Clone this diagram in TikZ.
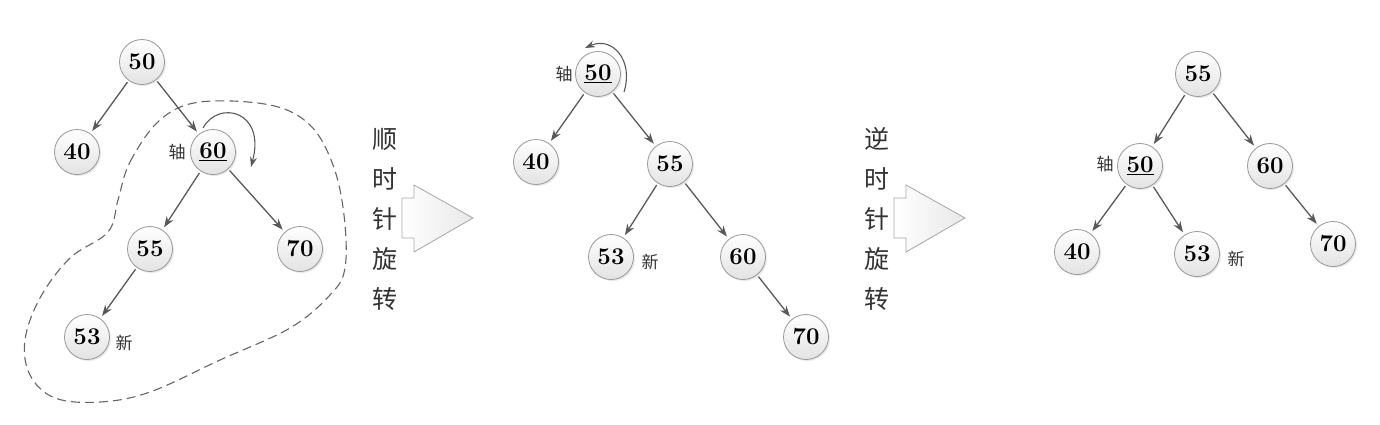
\documentclass[tikz,border=0pt]{standalone}
\usepackage{fontspec}
\newfontfamily\cjk{Noto Sans CJK SC}
\usetikzlibrary{arrows.meta,shadows}
\begin{document}
\begin{tikzpicture}[x=1pt,y=-1pt,
  bnode/.style={circle,minimum size=45pt,inner sep=0pt,draw=gray!80,line width=0.8pt,
    top color=white,bottom color=gray!22,font=\fontsize{24}{27}\selectfont\bfseries,
    drop shadow={opacity=0.18,shadow xshift=1.5pt,shadow yshift=-1.5pt}},
  edge/.style={draw=black!65,line width=1.3pt,-{Stealth[length=11pt,width=8pt]},shorten >=3pt,shorten <=2pt},
  tag/.style={font=\cjk\fontsize{17}{19}\selectfont,text=black!80,inner sep=0pt},
  vtext/.style={font=\cjk\fontsize{25}{40}\selectfont,text=black!80,align=center,inner sep=0pt},
  blockarrow/.style={draw=gray!70,line width=0.8pt,left color=white,right color=gray!18},
  rot/.style={draw=black!65,line width=1.1pt,-{Stealth[length=10pt,width=7pt]}},
  hull/.style={draw=black!60,line width=1.1pt,dash pattern=on 9pt off 5pt}
]
\useasboundingbox (0,0) rectangle (1380,424);
% ---------- tree 1 ----------
\draw[hull] plot[smooth cycle,tension=0.6] coordinates {(118,200) (130,162) (160,120) (200,102) (270,105) (310,125) (333,165) (344,215) (345,268) (330,295) (290,328) (220,360) (150,392) (100,402) (55,398) (30,375) (25,340) (40,298) (70,258) (108,232)};
\node[bnode] (a50) at (142,62) {50};
\node[bnode] (a40) at (77,152) {40};
\node[bnode] (a60) at (213,152) {\underline{60}};
\node[bnode] (a55) at (150,249) {55};
\node[bnode] (a70) at (300,249) {70};
\node[bnode] (a53) at (87,337) {53};
\node[tag] (az) at (177,152) {轴};
\node[tag] (an) at (124,343) {新};
\draw[edge] (a50) -- (a40);
\draw[edge] (a50) -- (a60);
\draw[edge] (a60) -- (a55);
\draw[edge] (a60) -- (a70);
\draw[edge] (a55) -- (a53);
\coordinate (ar1) at (203,128);
\coordinate (ar2) at (251,167);
\draw[rot] (ar1) .. controls (218,100) and (266,110) .. (ar2);
% ---------- arrow 1 ----------
\node[vtext] (t1) at (385,219) {顺\\时\\针\\旋\\转};
\draw[blockarrow] (402,198) -- (414,198) -- (414,185) -- (473,218) -- (414,252) -- (414,238) -- (402,238) -- cycle;
% ---------- tree 2 ----------
\node[bnode] (b50) at (598,74) {\underline{50}};
\node[bnode] (b40) at (536,162) {40};
\node[bnode] (b55) at (670,164) {55};
\node[bnode] (b53) at (611,257) {53};
\node[bnode] (b60) at (743,257) {60};
\node[bnode] (b70) at (806,337) {70};
\node[tag] (bz) at (564,74) {轴};
\node[tag] (bn) at (650,262) {新};
\draw[edge] (b50) -- (b40);
\draw[edge] (b50) -- (b55);
\draw[edge] (b55) -- (b53);
\draw[edge] (b55) -- (b60);
\draw[edge] (b60) -- (b70);
\coordinate (br1) at (624,92);
\coordinate (br2) at (585,48);
\draw[rot] (br1) .. controls (634,60) and (612,36) .. (br2);
% ---------- arrow 2 ----------
\node[vtext] (t2) at (877,219) {逆\\时\\针\\旋\\转};
\draw[blockarrow] (894,198) -- (906,198) -- (906,185) -- (965,218) -- (906,252) -- (906,238) -- (894,238) -- cycle;
% ---------- tree 3 ----------
\node[bnode] (c55) at (1198,74) {55};
\node[bnode] (c50) at (1140,166) {\underline{50}};
\node[bnode] (c60) at (1270,166) {60};
\node[bnode] (c40) at (1077,252) {40};
\node[bnode] (c53) at (1197,254) {53};
\node[bnode] (c70) at (1333,244) {70};
\node[tag] (cz) at (1105,164) {轴};
\node[tag] (cn) at (1236,259) {新};
\draw[edge] (c55) -- (c50);
\draw[edge] (c55) -- (c60);
\draw[edge] (c50) -- (c40);
\draw[edge] (c50) -- (c53);
\draw[edge] (c60) -- (c70);
\end{tikzpicture}
\end{document}
